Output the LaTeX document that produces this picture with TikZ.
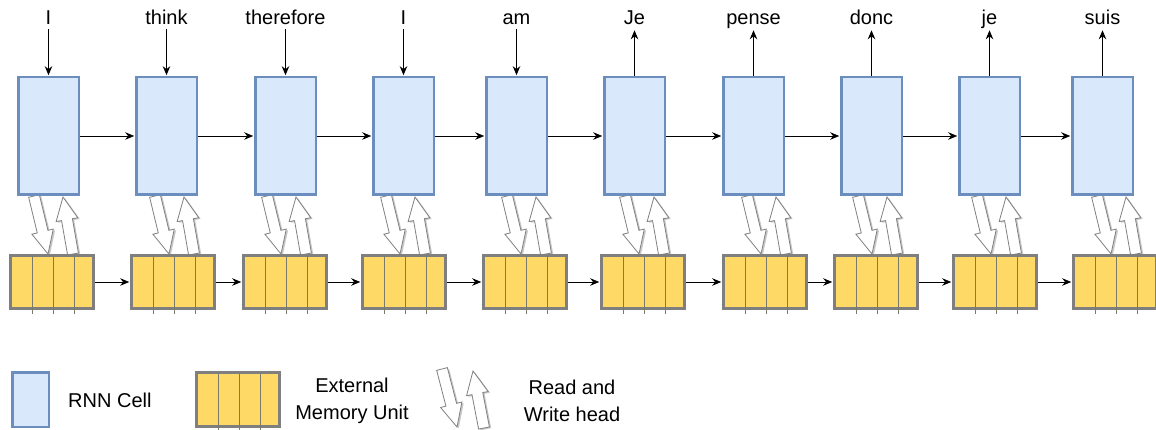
\documentclass[tikz,border=0pt]{standalone}
\usepackage{fontspec}
\setmainfont{Liberation Sans}
\usetikzlibrary{calc,arrows.meta,shadows}
\definecolor{cellfill}{HTML}{DAE8FC}
\definecolor{cellline}{HTML}{6C8EBF}
\definecolor{memfill}{HTML}{FFD966}
\definecolor{memline}{HTML}{7F7F7F}
\definecolor{divline}{HTML}{7A7A6A}
\newcommand\rwarr[2]{%
  \coordinate (#1n) at ($(#2)!23pt!(#1)$);
  \draw[rwarrow] ($(#1)!5.5pt!90:(#2)$) -- ($(#1n)!5.5pt!90:(#2)$) -- ($(#1n)!11pt!90:(#2)$)
    -- (#2) -- ($(#1n)!11pt!-90:(#2)$) -- ($(#1n)!5.5pt!-90:(#2)$) -- ($(#1)!5.5pt!-90:(#2)$) -- cycle;
}
\begin{document}
\begin{tikzpicture}[x=1pt,y=-1pt,
  cellbox/.style={draw=cellline, fill=cellfill, line width=2.5pt, inner sep=0pt, minimum width=60.5pt, minimum height=117.5pt},
  membox/.style={draw=memline, fill=memfill, line width=3pt, inner sep=0pt, minimum width=83pt, minimum height=53pt},
  memdiv/.style={draw=divline, line width=1pt},
  conn/.style={-{Stealth[length=9pt,width=7.5pt]}, line width=0.9pt, shorten >=0.8pt},
  lbl/.style={font=\fontsize{20}{23}\selectfont, inner sep=1pt},
  legtext/.style={font=\fontsize{20}{27}\selectfont, align=center, inner sep=1pt},
  rwarrow/.style={draw=black!50, fill=white, line width=0.8pt, line join=miter,
    drop shadow={shadow xshift=1.8pt, shadow yshift=-1.2pt, fill=black!40, opacity=0.55}}]
\useasboundingbox (0,0) rectangle (1156,430);

% read/write heads (under the boxes)
\foreach \i/\ml in {1/9,2/130,3/242,4/361,5/482,6/600,7/722,8/833,9/952,10/1072}{
  \coordinate (rA\i) at (\ml+25,196);
  \coordinate (rB\i) at (\ml+39,254);
  \coordinate (wA\i) at (\ml+64,254);
  \coordinate (wB\i) at (\ml+54,197);
  \rwarr{rA\i}{rB\i}
  \rwarr{wA\i}{wB\i}
}

% cells, memory units, words
\foreach \i/\cl/\ml/\w in {1/17/9/I, 2/135/130/think, 3/254/242/therefore, 4/372/361/I, 5/485/482/am, 6/603/600/Je, 7/722/722/pense, 8/840/833/donc, 9/958/952/je, 10/1071/1072/suis}{
  \node[cellbox] (c\i) at (\cl+31.5,136) {};
  \node[membox] (m\i) at (\ml+43,282) {};
  \foreach \d in {23,44,65}{
    \draw[memdiv] (\ml+\d,256) -- (\ml+\d,314);
  }
  \node[lbl, anchor=base] (w\i) at (\cl+31.5,25) {\w};
  \coordinate (t\i) at (\cl+31.5,29.5);
}
\foreach \i in {1,...,5}{ \draw[conn] (t\i) -- (c\i.north); }
\foreach \i in {6,...,10}{ \draw[conn] (c\i.north) -- (t\i); }
\foreach \a/\b in {1/2,2/3,3/4,4/5,5/6,6/7,7/8,8/9,9/10}{
  \draw[conn] (c\a.east) -- (c\b.west);
  \draw[conn] (m\a.east) -- (m\b.west);
}

% legend
\node[cellbox, minimum width=36.5pt, minimum height=54.5pt] (lc) at (30.5,399.5) {};
\node[legtext, anchor=west] (lct) at (67,400) {RNN Cell};
\node[membox, minimum width=83pt, minimum height=54pt] (lm) at (238,399.5) {};
\foreach \d in {23,44,65}{
  \draw[memdiv] (195+\d,373.5) -- (195+\d,432);
}
\node[legtext] (lmt) at (352,401) {External\\Memory Unit};
\coordinate (lrA) at (442,369);
\coordinate (lrB) at (457,427);
\coordinate (lwA) at (484,428);
\coordinate (lwB) at (473,371);
\rwarr{lrA}{lrB}
\rwarr{lwA}{lwB}
\node[legtext] (lrt) at (572,401) {Read and\\Write head};
\end{tikzpicture}
\end{document}
